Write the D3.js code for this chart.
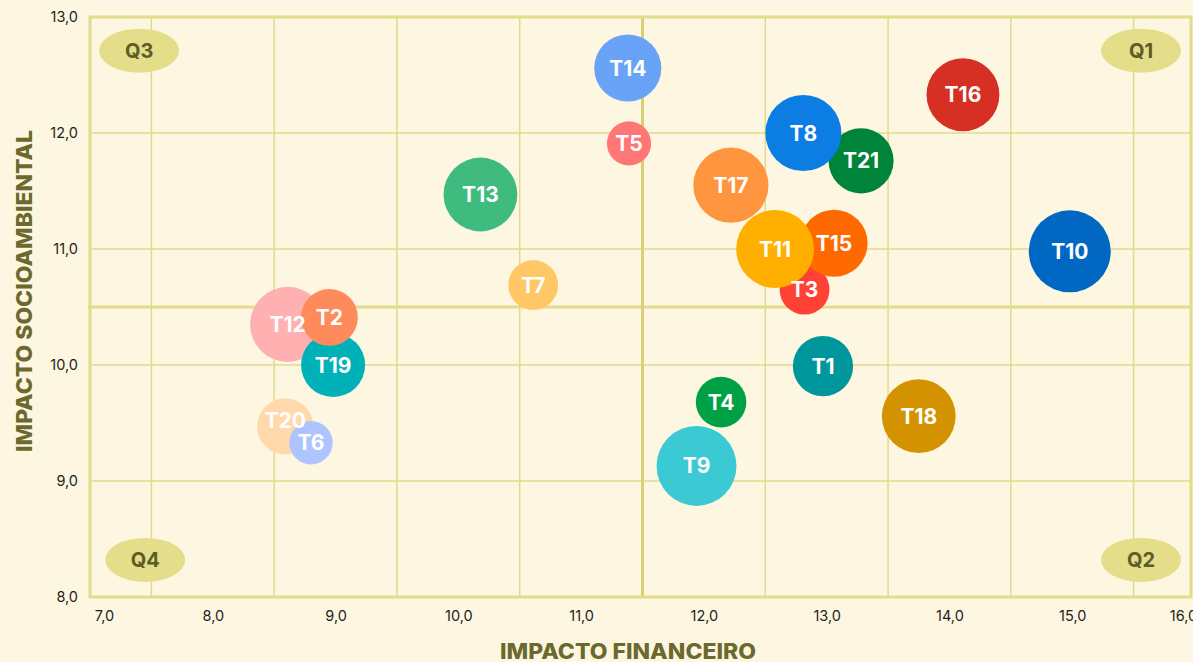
<!DOCTYPE html>
<html>
<head>
<meta charset="utf-8">
<script src="https://cdn.jsdelivr.net/npm/d3@7"></script>
<style>
  body { margin: 0; background: #fdf7e1; }
  .tick text { font-family: Inter, "Open Sans", sans-serif; font-size: 14.5px; fill: #1e1e1e; }
</style>
</head>
<body>
<div class="chart"></div>
<script>
// bubbles, listed in drawing order (later ones sit on top)
var temas = ["T1", "T3", "T4", "T5", "T7", "T9", "T10", "T12", "T13", "T14", "T16",
  "T17", "T15", "T11", "T18", "T19", "T2", "T20", "T6", "T21", "T8"];
var impactoFinanceiro = [12.97, 12.82, 12.14, 11.39, 10.61, 11.94, 14.98, 8.61, 10.18, 11.38, 14.11,
  12.22, 13.06, 12.58, 13.75, 8.98, 8.95, 8.59, 8.80, 13.28, 12.81];
var impactoSocio = [9.99, 10.65, 9.68, 11.91, 10.69, 9.13, 10.98, 10.35, 11.47, 12.56, 12.33,
  11.55, 11.05, 11.00, 9.56, 10.00, 10.41, 9.47, 9.33, 11.76, 12.00];
var peso = [5.4, 3.7, 3.8, 2.9, 3.7, 9.5, 10.0, 8.4, 8.1, 6.7, 7.9,
  8.4, 6.7, 9.0, 8.1, 6.1, 4.8, 4.7, 2.8, 6.3, 8.6];
var cores = ["#00979c", "#ff4136", "#00a045", "#ff7676", "#ffc766", "#3bcad3", "#0068c3", "#ffb1b1",
  "#40bb80", "#68a3f7", "#d62f23", "#ff963f", "#ff6a00", "#ffaf00", "#d39300", "#00b1b8",
  "#ff8a5b", "#ffd9ac", "#aec4ff", "#00843a", "#0b7de3"];

// axes
var xTicks = [7, 8, 9, 10, 11, 12, 13, 14, 15, 16];
var yTicks = [8, 9, 10, 11, 12, 13];
var xGrid = [7.5, 8.5, 9.5, 10.5, 12.5, 13.5, 14.5, 15.5];
var yGrid = [9, 10, 11, 12];
var divisorX = 11.5;
var divisorY = 10.5;

// quadrant tags
var quadrantes = ["Q1", "Q2", "Q3", "Q4"];
var quadX = [15.56, 15.56, 7.4, 7.45];
var quadY = [12.71, 8.32, 12.71, 8.32];

var svgWidth = 1193;
var svgHeight = 662;
var plot = { left: 90, right: 1191, top: 17, bottom: 597 };

var gridColor = "#e2d98c";
var olive = "#6b692e";

var fmt = d3.formatLocale({ decimal: ",", thousands: ".", grouping: [3], currency: ["", ""] }).format(".1f");

var svg = d3.select(".chart")
  .append("svg")
  .attr("width", svgWidth)
  .attr("height", svgHeight);

svg.append("rect")
  .attr("width", svgWidth)
  .attr("height", svgHeight)
  .attr("fill", "#fdf7e1");

var xScale = d3.scaleLinear().domain([7, 16]).range([plot.left, 1195]);
var yScale = d3.scaleLinear().domain([8, 13]).range([plot.bottom, plot.top]);
var rScale = d3.scaleSqrt().domain([0, 10]).range([0, 41]);
var colorScale = d3.scaleOrdinal().domain(temas).range(cores);

var data = temas.map(function (t, i) {
  return { tema: t, x: impactoFinanceiro[i], y: impactoSocio[i], peso: peso[i] };
});

// gridlines
var gridGroup = svg.append("g");
gridGroup.selectAll(".vgrid")
  .data(xGrid)
  .enter()
  .append("line")
  .attr("x1", d => xScale(d))
  .attr("x2", d => xScale(d))
  .attr("y1", plot.top)
  .attr("y2", plot.bottom)
  .attr("stroke", gridColor)
  .attr("stroke-width", 1.5);

gridGroup.selectAll(".hgrid")
  .data(yGrid)
  .enter()
  .append("line")
  .attr("x1", plot.left)
  .attr("x2", plot.right)
  .attr("y1", d => yScale(d))
  .attr("y2", d => yScale(d))
  .attr("stroke", gridColor)
  .attr("stroke-width", 1.5);

// quadrant dividers
gridGroup.append("line")
  .attr("x1", plot.left - 2)
  .attr("x2", plot.right)
  .attr("y1", yScale(divisorY))
  .attr("y2", yScale(divisorY))
  .attr("stroke", "#e3dc8e")
  .attr("stroke-width", 3);

gridGroup.append("line")
  .attr("x1", xScale(divisorX))
  .attr("x2", xScale(divisorX))
  .attr("y1", plot.top)
  .attr("y2", plot.bottom)
  .attr("stroke", "#d9cf74")
  .attr("stroke-width", 3);

// frame
svg.append("rect")
  .attr("x", plot.left)
  .attr("y", plot.top)
  .attr("width", plot.right - plot.left)
  .attr("height", plot.bottom - plot.top)
  .attr("fill", "none")
  .attr("stroke", "#e3dc8a")
  .attr("stroke-width", 3);

// quadrant tags
var quads = svg.append("g")
  .selectAll("g")
  .data(quadrantes)
  .enter()
  .append("g")
  .attr("transform", (d, i) => `translate(${xScale(quadX[i])}, ${yScale(quadY[i])})`);

quads.append("ellipse")
  .attr("rx", 40)
  .attr("ry", 22)
  .attr("fill", "#e4de8b");

quads.append("text")
  .attr("text-anchor", "middle")
  .attr("dy", "0.36em")
  .attr("font-family", "Inter, sans-serif")
  .attr("font-weight", 700)
  .attr("font-size", "20px")
  .attr("fill", "#5e5c24")
  .text(d => d);

// axes
var bottomAxis = d3.axisBottom(xScale)
  .tickValues(xTicks)
  .tickSize(0)
  .tickPadding(14)
  .tickFormat(fmt);

var xAxis = svg.append("g")
  .attr("transform", `translate(0, ${plot.bottom})`)
  .call(bottomAxis);
xAxis.select(".domain").remove();
xAxis.selectAll(".tick text").filter(d => d === 7).attr("dx", 14);
xAxis.selectAll(".tick text").filter(d => d === 16).attr("dx", -12);

var leftAxis = d3.axisLeft(yScale)
  .tickValues(yTicks)
  .tickSize(0)
  .tickPadding(12)
  .tickFormat(fmt);

var yAxis = svg.append("g")
  .attr("transform", `translate(${plot.left}, 0)`)
  .call(leftAxis);
yAxis.select(".domain").remove();

// axis titles
svg.append("text")
  .attr("x", 628)
  .attr("y", 659)
  .attr("text-anchor", "middle")
  .attr("font-family", "Inter, sans-serif")
  .attr("font-weight", 800)
  .attr("font-size", "21px")
  .attr("fill", olive)
  .attr("textLength", 256)
  .attr("lengthAdjust", "spacingAndGlyphs")
  .text("IMPACTO FINANCEIRO");

svg.append("text")
  .attr("transform", "translate(32, 291) rotate(-90)")
  .attr("text-anchor", "middle")
  .attr("font-family", "Inter, sans-serif")
  .attr("font-weight", 800)
  .attr("font-size", "22px")
  .attr("fill", olive)
  .attr("textLength", 322)
  .attr("lengthAdjust", "spacingAndGlyphs")
  .text("IMPACTO SOCIOAMBIENTAL");

// bubbles
svg.append("g")
  .selectAll("circle")
  .data(data)
  .enter()
  .append("circle")
  .attr("cx", d => xScale(d.x))
  .attr("cy", d => yScale(d.y))
  .attr("r", d => rScale(d.peso))
  .attr("fill", d => colorScale(d.tema));

// labels go on top of every bubble
svg.append("g")
  .selectAll("text")
  .data(data)
  .enter()
  .append("text")
  .attr("x", d => xScale(d.x))
  .attr("y", d => yScale(d.y))
  .attr("text-anchor", "middle")
  .attr("dy", d => d.tema === "T20" ? "0.05em" : "0.36em") // T20 label sits a bit higher, clear of T6
  .attr("font-family", "Inter, sans-serif")
  .attr("font-weight", 700)
  .attr("font-size", "21px")
  .attr("fill", "#ffffff")
  .text(d => d.tema);
</script>
</body>
</html>
